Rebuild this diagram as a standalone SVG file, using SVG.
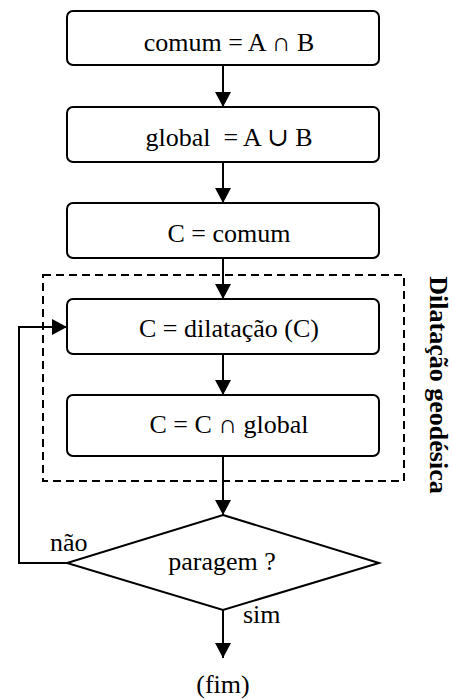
<svg xmlns="http://www.w3.org/2000/svg" width="453" height="700" viewBox="0 0 453 700">
  <style>
    .box { fill: #fff; stroke: #000; stroke-width: 2; }
    .lbl { font-family: "Liberation Serif", "Times New Roman", "DejaVu Serif", serif; font-size: 26px; fill: #000; }
    .mid { text-anchor: middle; }
    .con { fill: none; stroke: #000; stroke-width: 2; }
    .dash { fill: none; stroke: #000; stroke-width: 2; stroke-dasharray: 8 5; }
  </style>
  <defs>
    <marker id="arr" markerUnits="userSpaceOnUse" markerWidth="16" markerHeight="16" viewBox="0 0 16 16" refX="15" refY="8" orient="auto">
      <path d="M0,0 L15,8 L0,16 z" fill="#000"/>
    </marker>
  </defs>
  <rect width="453" height="700" fill="#fff"/>

  <g id="group-dilatacao">
    <rect class="dash" x="43" y="275" width="361" height="206"/>
    <text class="lbl" font-weight="bold" transform="translate(430,385) rotate(90)" text-anchor="middle">Dilatação geodésica</text>
  </g>

  <g id="connectors">
    <line class="con" x1="223" y1="65" x2="223" y2="107" marker-end="url(#arr)"/>
    <line class="con" x1="223" y1="162" x2="223" y2="203" marker-end="url(#arr)"/>
    <line class="con" x1="223" y1="258" x2="223" y2="299" marker-end="url(#arr)"/>
    <line class="con" x1="223" y1="354" x2="223" y2="395" marker-end="url(#arr)"/>
    <line class="con" x1="223" y1="456" x2="223" y2="515" marker-end="url(#arr)"/>
    <polyline class="con" points="67,563 19,563 19,327 67,327" marker-end="url(#arr)"/>
    <line class="con" x1="223" y1="610" x2="223" y2="658" marker-end="url(#arr)"/>
    <text class="lbl" x="50" y="551">não</text>
    <text class="lbl" x="243" y="623">sim</text>
  </g>

  <g id="node-comum">
    <rect class="box" x="67" y="11" width="312" height="54" rx="6"/>
    <text class="lbl mid" x="229" y="51">comum = A ∩ B</text>
  </g>
  <g id="node-global">
    <rect class="box" x="67" y="107" width="312" height="55" rx="6"/>
    <text class="lbl mid" x="229" y="146" xml:space="preserve">global  = A ∪ B</text>
  </g>
  <g id="node-c-comum">
    <rect class="box" x="67" y="203" width="312" height="55" rx="6"/>
    <text class="lbl mid" x="229" y="242">C = comum</text>
  </g>
  <g id="node-dilatacao">
    <rect class="box" x="67" y="299" width="312" height="55" rx="6"/>
    <text class="lbl mid" x="229" y="337">C = dilatação (C)</text>
  </g>
  <g id="node-intersecao">
    <rect class="box" x="67" y="395" width="312" height="61" rx="6"/>
    <text class="lbl mid" x="229" y="433">C = C ∩ global</text>
  </g>
  <g id="node-paragem">
    <polygon class="box" points="223,515 379,563 223,610 67,563"/>
    <text class="lbl mid" x="222" y="570">paragem ?</text>
  </g>
  <g id="node-fim">
    <text class="lbl mid" x="223" y="693">(fim)</text>
  </g>
</svg>
